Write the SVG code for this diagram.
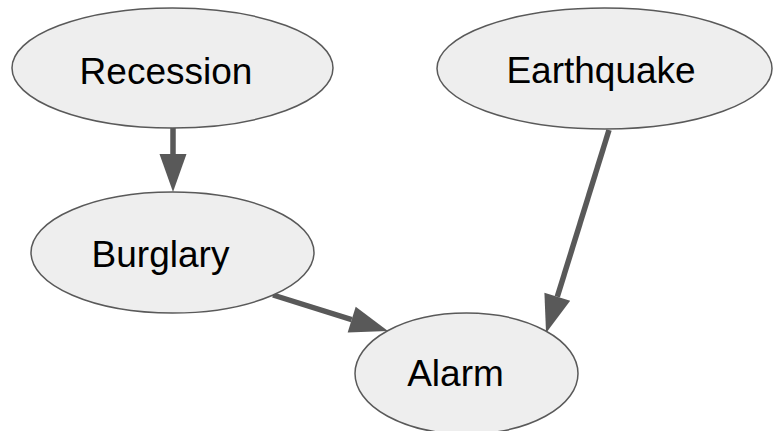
<svg xmlns="http://www.w3.org/2000/svg" width="773" height="431" viewBox="0 0 773 431">
<defs>
<style>
.node ellipse{fill:#eeeeee;stroke:#595959;stroke-width:1.5}
.node text{font-family:"Liberation Sans",Arial,sans-serif;font-size:37px;fill:#000;text-anchor:middle}
.edge{stroke:#595959;stroke-width:5.5;fill:none;marker-end:url(#ah)}
</style>
<marker id="ah" markerUnits="userSpaceOnUse" markerWidth="40" markerHeight="28" refX="0" refY="13.5" orient="auto" overflow="visible">
<path d="M0,0 L38,13.5 L0,27 Z" fill="#595959"/>
</marker>
</defs>
<rect width="773" height="431" fill="#ffffff"/>
<g id="connectors">
<line class="edge" x1="173" y1="128" x2="173" y2="154"/>
<line class="edge" x1="273" y1="295" x2="351.7" y2="319.6"/>
<line class="edge" x1="609" y1="130" x2="557.3" y2="296.7"/>
</g>
<g id="recession" class="node">
<ellipse cx="172.5" cy="68" rx="160.5" ry="60"/>
<text x="166" y="84">Recession</text>
</g>
<g id="earthquake" class="node">
<ellipse cx="604.5" cy="68.5" rx="167.5" ry="60.5"/>
<text x="601" y="83">Earthquake</text>
</g>
<g id="burglary" class="node">
<ellipse cx="172.5" cy="252.5" rx="141.5" ry="60.5"/>
<text x="160.5" y="267">Burglary</text>
</g>
<g id="alarm" class="node">
<ellipse cx="466.5" cy="373.5" rx="111.5" ry="60.5"/>
<text x="455.5" y="386">Alarm</text>
</g>
</svg>
